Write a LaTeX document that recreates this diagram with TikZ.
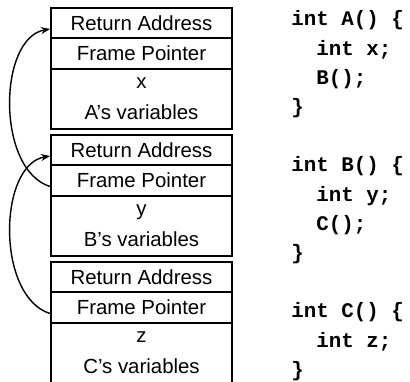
\documentclass[tikz,border=0pt]{standalone}
\usepackage{fontspec}
\newfontfamily\boxfont{Liberation Sans}
\newfontfamily\codefont{Liberation Mono}
\usetikzlibrary{arrows.meta}
\begin{document}
\begin{tikzpicture}[x=0.5pt,y=0.5pt,
  slot/.style={draw=black,line width=1pt,minimum width=90.5pt,inner sep=0pt,align=center,
    font=\boxfont\fontsize{10.2pt}{15.5pt}\selectfont},
  link/.style={black,line width=0.7pt,-{Stealth[length=4.5pt,width=3.5pt]}},
  code/.style={anchor=north west,inner sep=0pt,align=left,
    font=\codefont\bfseries\fontsize{10.4pt}{14.6pt}\selectfont}]
\useasboundingbox (0,0) rectangle (410,-381);
\node[slot,minimum height=15pt] (ara) at (141.5,-23) {Return Address};
\node[slot,minimum height=15.5pt] (afp) at (141.5,-53.5) {Frame Pointer};
\node[slot,minimum height=29.75pt] (avar) at (141.5,-98.75) {x\\A’s variables};
\node[slot,minimum height=15pt] (bra) at (141.5,-150) {Return Address};
\node[slot,minimum height=15.5pt] (bfp) at (141.5,-180.5) {Frame Pointer};
\node[slot,minimum height=29.75pt] (bvar) at (141.5,-225.75) {y\\B’s variables};
\node[slot,minimum height=15pt] (cra) at (141.5,-277) {Return Address};
\node[slot,minimum height=15.5pt] (cfp) at (141.5,-307.5) {Frame Pointer};
\node[slot,minimum height=29.75pt] (cvar) at (141.5,-352.75) {z\\C’s variables};
\draw[link] ([yshift=-3pt]bfp.west) .. controls +(-54,17) and +(-52,-9) .. ([yshift=-3pt]ara.west);
\draw[link] ([yshift=-3pt]cfp.west) .. controls +(-54,17) and +(-52,-9) .. ([yshift=-3pt]bra.west);
\node[code] (codea) at (291,-10.5) {int A() \{\\\hphantom{in}int x;\\\hphantom{in}B();\\\}};
\node[code] (codeb) at (291,-156.5) {int B() \{\\\hphantom{in}int y;\\\hphantom{in}C();\\\}};
\node[code] (codec) at (291,-302.5) {int C() \{\\\hphantom{in}int z;\\\}};
\end{tikzpicture}
\end{document}
